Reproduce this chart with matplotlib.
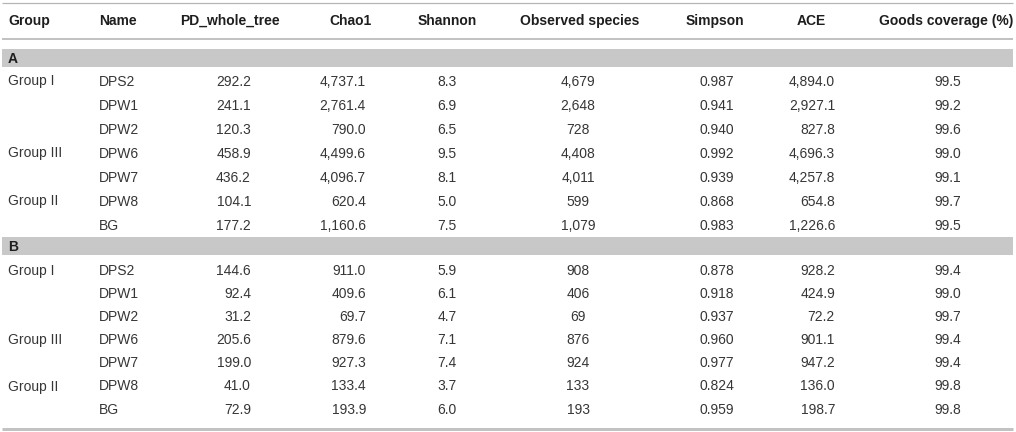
import matplotlib.pyplot as plt
from matplotlib.patches import Rectangle

# table content
headers = ["Group", "Name", "PD_whole_tree", "Chao1", "Shannon",
           "Observed species", "Simpson", "ACE", "Goods coverage (%)"]
sections = ["A", "B"]
groups = ["Group I", "", "", "Group III", "", "Group II", ""]
names = ["DPS2", "DPW1", "DPW2", "DPW6", "DPW7", "DPW8", "BG"]

# section A
pd_a = [292.2, 241.1, 120.3, 458.9, 436.2, 104.1, 177.2]
chao1_a = [4737.1, 2761.4, 790.0, 4499.6, 4096.7, 620.4, 1160.6]
shannon_a = [8.3, 6.9, 6.5, 9.5, 8.1, 5.0, 7.5]
observed_a = [4679, 2648, 728, 4408, 4011, 599, 1079]
simpson_a = [0.987, 0.941, 0.940, 0.992, 0.939, 0.868, 0.983]
ace_a = [4894.0, 2927.1, 827.8, 4696.3, 4257.8, 654.8, 1226.6]
goods_a = [99.5, 99.2, 99.6, 99.0, 99.1, 99.7, 99.5]

# section B
pd_b = [144.6, 92.4, 31.2, 205.6, 199.0, 41.0, 72.9]
chao1_b = [911.0, 409.6, 69.7, 879.6, 927.3, 133.4, 193.9]
shannon_b = [5.9, 6.1, 4.7, 7.1, 7.4, 3.7, 6.0]
observed_b = [908, 406, 69, 876, 924, 133, 193]
simpson_b = [0.878, 0.918, 0.937, 0.960, 0.977, 0.824, 0.959]
ace_b = [928.2, 424.9, 72.2, 901.1, 947.2, 136.0, 198.7]
goods_b = [99.4, 99.0, 99.7, 99.4, 99.4, 99.8, 99.8]

data = {
    "A": [pd_a, chao1_a, shannon_a, observed_a, simpson_a, ace_a, goods_a],
    "B": [pd_b, chao1_b, shannon_b, observed_b, simpson_b, ace_b, goods_b],
}
fmts = ["{:.1f}", "{:,.1f}", "{:.1f}", "{:,d}", "{:.3f}", "{:,.1f}", "{:.1f}"]

# layout in pixels
hdr_x = [8, 99, 230, 350, 447, 580, 715, 811, 946]
hdr_ha = ["left", "left"] + ["center"] * 7
val_x = [251, 366, 447, 578, 717, 835, 948]
val_ha = ["right", "right", "center", "center", "center", "right", "center"]
band_top = {"A": 49, "B": 237}
first_row = {"A": 80.5, "B": 270}
pitch = {"A": 24.0, "B": 23.1}
x0, x1 = 2, 1013

font = "Liberation Sans"
txt_col = "#363636"
hdr_col = "#1e1e1e"

fig = plt.figure(figsize=(10.16, 4.32), dpi=100)
ax = fig.add_axes([0, 0, 1, 1])
ax.set_xlim(0, 1016)
ax.set_ylim(432, 0)
ax.axis("off")

px = 0.72  # one pixel in points

ax.plot([x0, x1], [2.5, 2.5], color="#b4b4b4", lw=1.2 * px, solid_capstyle="butt")
ax.plot([x0, x1], [39, 39], color="#b4b4b4", lw=1.6 * px, solid_capstyle="butt")
ax.plot([x0, x1], [428.5, 428.5], color="#c2c2c2", lw=3 * px, solid_capstyle="butt")

off = 5  # baseline below row centre
for h, x, ha in zip(headers, hdr_x, hdr_ha):
    ax.text(x, 20 + off, h, ha=ha, va="baseline", fontsize=10,
            fontweight="bold", family=font, color=hdr_col)

for sec in sections:
    top = band_top[sec]
    ax.add_patch(Rectangle((x0, top), x1 - x0, 18, color="#c8c8c8", lw=0))
    ax.text(8, top + 9 + off, sec, ha="left", va="baseline", fontsize=10,
            fontweight="bold", family=font, color=hdr_col)
    cols = data[sec]
    for i in range(len(names)):
        y = first_row[sec] + i * pitch[sec] + off
        ax.text(8, y, groups[i], ha="left", va="baseline", fontsize=10,
                family=font, color=txt_col)
        ax.text(99, y, names[i], ha="left", va="baseline", fontsize=10,
                family=font, color=txt_col)
        for vals, fm, x, ha in zip(cols, fmts, val_x, val_ha):
            ax.text(x, y, fm.format(vals[i]), ha=ha, va="baseline",
                    fontsize=10, family=font, color=txt_col)

fig.savefig("out.png", dpi=100)
